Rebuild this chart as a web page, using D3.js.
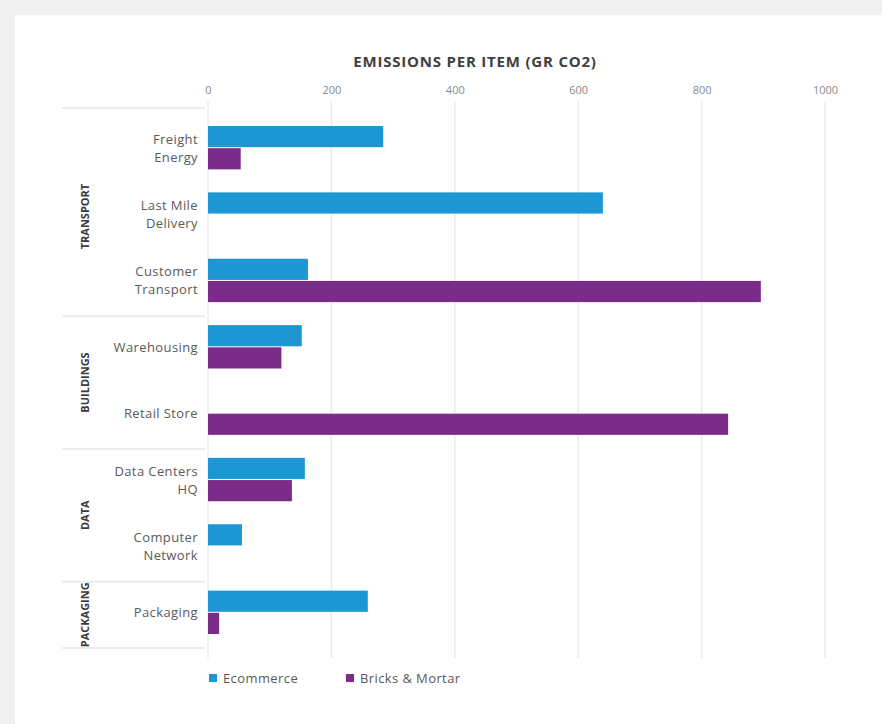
<!DOCTYPE html>
<html>
<head>
<meta charset="utf-8">
<script src="https://cdn.jsdelivr.net/npm/d3@7"></script>
<style>
  body { margin: 0; background: #f1f1f1; }
  svg { display: block; }
</style>
</head>
<body>
<svg width="882" height="724"></svg>
<script>
var categories = ["Freight\nEnergy", "Last Mile\nDelivery", "Customer\nTransport", "Warehousing", "Retail Store", "Data Centers\nHQ", "Computer\nNetwork", "Packaging"];
var groups = ["TRANSPORT", "BUILDINGS", "DATA", "PACKAGING"];
var groupSizes = [3, 2, 2, 1];
var seriesNames = ["Ecommerce", "Bricks & Mortar"];
var ecommerce = [284, 640, 162, 152, 0, 157, 55, 259];
var bricks = [53, 0, 896, 119, 843, 136, 0, 18];
var ticks = [0, 200, 400, 600, 800, 1000];

var colors = ["#1f96d4", "#7b2b88"];

var svg = d3.select("svg");

svg.append("rect")
    .attr("x", 15).attr("y", 15)
    .attr("width", 867).attr("height", 709)
    .attr("fill", "#ffffff");

var x = d3.scaleLinear().domain([0, 1000]).range([208, 825]);
var y = d3.scaleBand().domain(categories).range([115, 646]).padding(0);
var ys = d3.scaleBand().domain(seriesNames).range([11, y.bandwidth() - 11]);

// gridlines
svg.append("g").selectAll("line")
    .data(ticks).enter().append("line")
    .attr("x1", function(d) { return x(d); })
    .attr("x2", function(d) { return x(d); })
    .attr("y1", 101).attr("y2", 658)
    .attr("stroke", "#ebebeb")
    .attr("stroke-width", 1.5);

// top axis
var axis = svg.append("g")
    .attr("transform", "translate(0,93)")
    .call(d3.axisTop(x).tickValues(ticks).tickSize(0).tickFormat(d3.format("d")));
axis.select(".domain").remove();
axis.selectAll("text")
    .attr("dy", "0.35em")
    .attr("font-family", "Open Sans, sans-serif")
    .attr("font-size", 11)
    .attr("fill", "#8a8a8a");

svg.append("text")
    .attr("x", 475).attr("y", 62)
    .attr("text-anchor", "middle")
    .attr("dy", "0.35em")
    .attr("font-family", "Open Sans, sans-serif")
    .attr("font-weight", "bold")
    .attr("font-size", 15)
    .attr("letter-spacing", 0.8)
    .attr("fill", "#404040")
    .text("EMISSIONS PER ITEM (GR CO2)");

// group separators and labels
var start = 0;
var bounds = [y(categories[0])];
groups.forEach(function(gname, i) {
    var first = categories[start];
    var last = categories[start + groupSizes[i] - 1];
    var top = y(first), bottom = y(last) + y.bandwidth();
    bounds.push(bottom);
    svg.append("text")
        .attr("transform", "translate(85," + ((top + bottom) / 2 + 2) + ") rotate(-90)")
        .attr("text-anchor", "middle")
        .attr("dy", "0.35em")
        .attr("font-family", "Open Sans, sans-serif")
        .attr("font-weight", "bold")
        .attr("font-size", 11)
        .attr("fill", "#3a3a3a")
        .text(gname);
    start += groupSizes[i];
});
svg.append("g").selectAll("line")
    .data(bounds).enter().append("line")
    .attr("x1", 62).attr("x2", 205)
    .attr("y1", function(d, i) { return i == 0 ? d - 7 : d + 2; })
    .attr("y2", function(d, i) { return i == 0 ? d - 7 : d + 2; })
    .attr("stroke", "#ececec")
    .attr("stroke-width", 2);

// category labels
var catLabels = svg.append("g").selectAll("text")
    .data(categories).enter().append("text")
    .attr("text-anchor", "end")
    .attr("font-family", "Open Sans, sans-serif")
    .attr("font-size", 13)
    .attr("letter-spacing", 0.4)
    .attr("fill", "#5a5a5a");
catLabels.each(function(d) {
    var lines = d.split("\n");
    var cy = y(d) + y.bandwidth() / 2;
    var t = d3.select(this);
    lines.forEach(function(l, i) {
        t.append("tspan")
            .attr("x", 198)
            .attr("y", cy + (i - (lines.length - 1) / 2) * 18)
            .attr("dy", "0.35em")
            .text(l);
    });
});

// bars
var rows = categories.map(function(c, i) {
    return { cat: c, values: [ecommerce[i], bricks[i]] };
});
var row = svg.append("g").selectAll("g")
    .data(rows).enter().append("g")
    .attr("transform", function(d) { return "translate(0," + y(d.cat) + ")"; });
row.selectAll("rect")
    .data(function(d) { return d.values.map(function(v, i) { return { s: seriesNames[i], v: v, i: i }; }); })
    .enter().append("rect")
    .attr("x", x(0))
    .attr("y", function(d) { return ys(d.s); })
    .attr("width", function(d) { return x(d.v) - x(0); })
    .attr("height", ys.bandwidth() - 1)
    .attr("fill", function(d) { return colors[d.i]; });

// legend
var legendX = [209, 346];
var leg = svg.append("g").selectAll("g")
    .data(seriesNames).enter().append("g")
    .attr("transform", function(d, i) { return "translate(" + legendX[i] + ",678)"; });
leg.append("rect")
    .attr("x", 0).attr("y", -4)
    .attr("width", 8).attr("height", 8)
    .attr("fill", function(d, i) { return colors[i]; });
leg.append("text")
    .attr("x", 14)
    .attr("dy", "0.35em")
    .attr("font-family", "Open Sans, sans-serif")
    .attr("font-size", 13)
    .attr("letter-spacing", 0.4)
    .attr("fill", "#595959")
    .text(function(d) { return d; });
</script>
</body>
</html>
